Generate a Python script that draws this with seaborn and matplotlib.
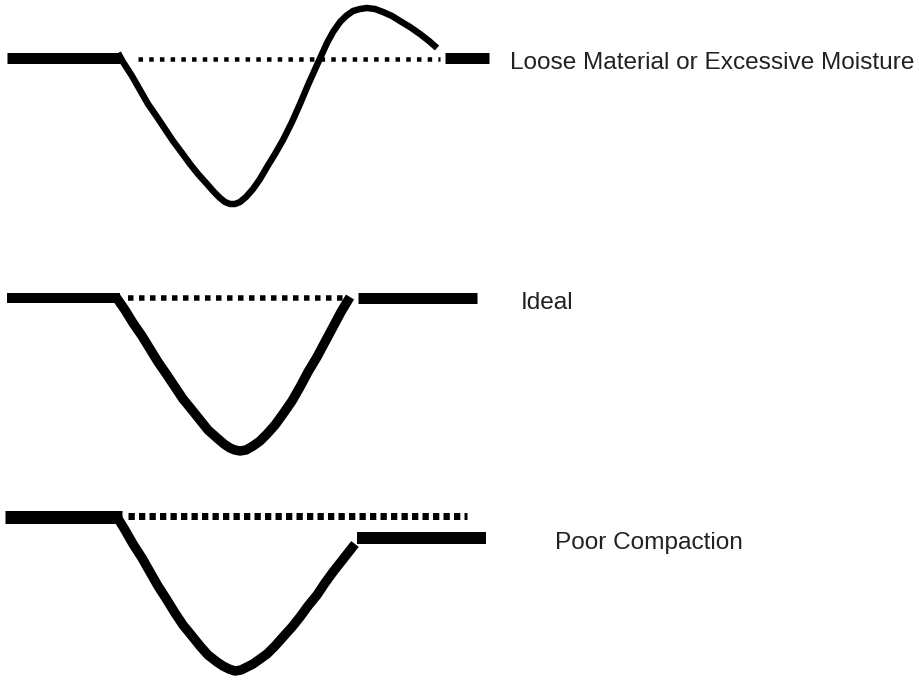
import matplotlib
matplotlib.use("Agg")
import matplotlib.pyplot as plt
import seaborn as sns
import pandas as pd

sns.set_theme(style="white")
plt.rcParams['font.family'] = ['Liberation Sans', 'DejaVu Sans']

# ---- data (pixel-space profile coordinates) ----
labels = ["Loose Material or Excessive Moisture", "Ideal", "Poor Compaction"]
label_x = [510, 521, 555]
label_y = [69, 309, 549]

# Profile 1: Loose Material or Excessive Moisture
p1_left_x = [7, 120]
p1_left_y = [57.5, 57.5]
p1_right_x = [445, 489]
p1_right_y = [57.5, 57.5]
p1_ref_x = [138, 440]
p1_ref_y = [58.5, 58.5]
p1_curve_x = [118, 123, 132, 140, 148, 157, 165, 173, 182, 190, 198, 207, 214,
              220, 225, 230, 235, 240, 246, 253, 260, 267, 275, 283, 292, 300,
              308, 317, 322, 327, 333, 340, 346, 353, 360, 367, 375, 383, 392,
              400, 410, 420, 429, 437]
p1_curve_y = [53, 62, 76, 90, 104, 117, 129, 141, 153, 164, 174, 184, 192,
              198, 202, 204, 204, 202, 197, 189, 179, 167, 154, 140, 122, 104,
              85, 65, 54, 43, 32, 22, 16, 11, 9, 8, 9, 12, 16,
              21, 27, 34, 41, 48]

# Profile 2: Ideal
p2_left_x = [7, 120]
p2_left_y = [298, 298]
p2_right_x = [358, 477]
p2_right_y = [297.5, 297.5]
p2_ref_x = [128, 348]
p2_ref_y = [298, 298]
p2_curve_x = [116, 125, 133, 142, 150, 158, 167, 175, 183, 192, 200, 208, 217,
              224, 230, 235, 240, 246, 253, 260, 267, 275, 283, 292, 300, 308,
              317, 325, 333, 341, 350]
p2_curve_y = [297, 310, 323, 336, 349, 362, 375, 387, 399, 410, 420, 430, 438,
              444, 448, 450, 451, 450, 446, 441, 434, 425, 414, 401, 387, 372,
              357, 342, 327, 312, 297]

# Profile 3: Poor Compaction
p3_left_x = [5, 122]
p3_left_y = [516.5, 516.5]
p3_right_x = [357, 486]
p3_right_y = [538, 538]
p3_ref_x = [128, 467]
p3_ref_y = [516, 516]
p3_curve_x = [117, 125, 133, 142, 150, 158, 167, 175, 183, 192, 200, 208, 217,
              223, 229, 235, 241, 247, 253, 260, 267, 275, 283, 292, 300, 308,
              317, 325, 333, 344, 355]
p3_curve_y = [517, 530, 544, 558, 572, 586, 600, 613, 625, 636, 646, 655, 662,
              666, 669, 671, 670, 667, 664, 659, 654, 646, 637, 627, 617, 606,
              595, 583, 572, 558, 544]

# ---- drawing ----
fig = plt.figure(figsize=(9.19, 6.8), dpi=100)
ax = fig.add_axes([0, 0, 1, 1])
ax.set_xlim(0, 919)
ax.set_ylim(680, 0)
ax.axis("off")

def seg(x, y, lw, **kw):
    df = pd.DataFrame({"x": x, "y": y})
    sns.lineplot(data=df, x="x", y="y", sort=False, estimator=None, ax=ax,
                 color="black", linewidth=lw, legend=False, **kw)

px = 0.72  # points per pixel at 100 dpi

profiles = [
    (p1_left_x, p1_left_y, 11, p1_right_x, p1_right_y, 11, p1_ref_x, p1_ref_y, 4.5, (1.0, 1.38),
     p1_curve_x, p1_curve_y, 6.5),
    (p2_left_x, p2_left_y, 10, p2_right_x, p2_right_y, 11, p2_ref_x, p2_ref_y, 5.5, (1.0, 1.0),
     p2_curve_x, p2_curve_y, 9.5),
    (p3_left_x, p3_left_y, 13, p3_right_x, p3_right_y, 12, p3_ref_x, p3_ref_y, 7.0, (0.9, 0.6),
     p3_curve_x, p3_curve_y, 9.5),
]

for (lx, ly, lw_l, rx, ry, lw_r, dx, dy, lw_d, dash, cx, cy, lw_c) in profiles:
    seg(lx, ly, lw_l * px, solid_capstyle="butt")
    seg(rx, ry, lw_r * px, solid_capstyle="butt")
    seg(dx, dy, lw_d * px, linestyle=(0, dash), dash_capstyle="butt")
    seg(cx, cy, lw_c * px, solid_capstyle="butt", solid_joinstyle="round")

for t, x, y in zip(labels, label_x, label_y):
    ax.text(x, y, t, fontsize=17.6, color="#222222", ha="left", va="baseline")

ax.set_xlabel("")
ax.set_ylabel("")
fig.savefig("out.png", dpi=100, facecolor="white")
